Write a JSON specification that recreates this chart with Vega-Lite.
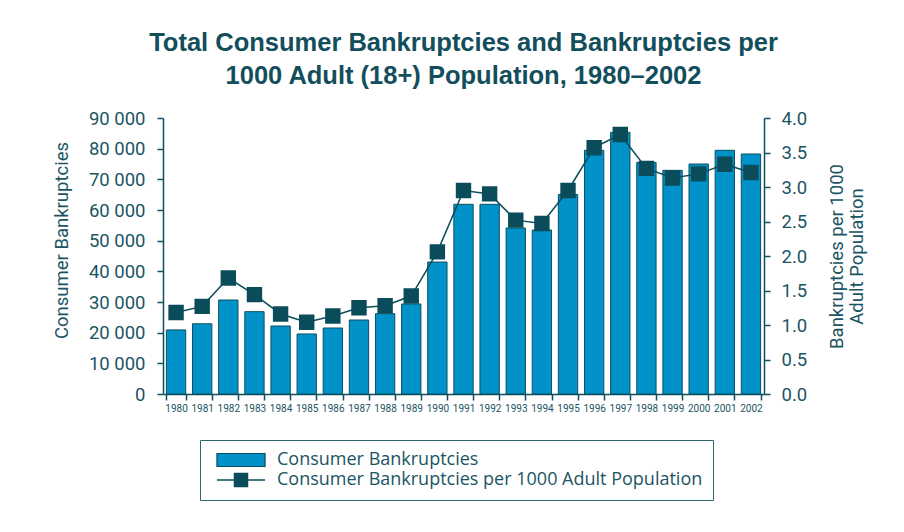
{
  "$schema": "https://vega.github.io/schema/vega-lite/v6.json",
  "autosize": {"type": "none"},
  "width": 601,
  "height": 276,
  "padding": {"left": 163, "top": 118, "right": 140, "bottom": 138},
  "background": "white",
  "title": {
    "text": ["Total Consumer Bankruptcies and Bankruptcies per", "1000 Adult (18+) Population, 1980–2002"],
    "font": "Liberation Sans",
    "fontSize": 25.5,
    "fontWeight": "bold",
    "color": "#124E5B",
    "anchor": "middle",
    "lineHeight": 33,
    "offset": 20
  },
  "data": {
    "values": [
      {"year": "1980", "bankruptcies": 20900, "rate": 1.18},
      {"year": "1981", "bankruptcies": 22900, "rate": 1.27},
      {"year": "1982", "bankruptcies": 30650, "rate": 1.68},
      {"year": "1983", "bankruptcies": 26850, "rate": 1.44},
      {"year": "1984", "bankruptcies": 22170, "rate": 1.16},
      {"year": "1985", "bankruptcies": 19570, "rate": 1.04},
      {"year": "1986", "bankruptcies": 21520, "rate": 1.13},
      {"year": "1987", "bankruptcies": 24130, "rate": 1.25},
      {"year": "1988", "bankruptcies": 26200, "rate": 1.28},
      {"year": "1989", "bankruptcies": 29350, "rate": 1.42},
      {"year": "1990", "bankruptcies": 43040, "rate": 2.06},
      {"year": "1991", "bankruptcies": 61850, "rate": 2.95},
      {"year": "1992", "bankruptcies": 61850, "rate": 2.90},
      {"year": "1993", "bankruptcies": 54130, "rate": 2.52},
      {"year": "1994", "bankruptcies": 53480, "rate": 2.47},
      {"year": "1995", "bankruptcies": 65100, "rate": 2.95},
      {"year": "1996", "bankruptcies": 79460, "rate": 3.57},
      {"year": "1997", "bankruptcies": 85330, "rate": 3.76},
      {"year": "1998", "bankruptcies": 75540, "rate": 3.27},
      {"year": "1999", "bankruptcies": 72930, "rate": 3.13},
      {"year": "2000", "bankruptcies": 75000, "rate": 3.19},
      {"year": "2001", "bankruptcies": 79460, "rate": 3.33},
      {"year": "2002", "bankruptcies": 78260, "rate": 3.21}
    ]
  },
  "encoding": {
    "x": {
      "field": "year",
      "type": "ordinal",
      "scale": {"paddingInner": 0.26, "paddingOuter": 0.13},
      "axis": {
        "title": null,
        "labelAngle": 0,
        "labelFont": "Roboto",
        "labelFontSize": 10,
        "labelColor": "#1B5563",
        "labelPadding": 3,
        "tickBand": "extent",
        "tickSize": 6,
        "tickColor": "#0D4F5F",
        "tickWidth": 1.5,
        "domainColor": "#0D4F5F",
        "domainWidth": 1.5
      }
    }
  },
  "layer": [
    {
      "mark": {"type": "bar", "stroke": "#0D4F5F", "strokeWidth": 1},
      "encoding": {
        "y": {
          "field": "bankruptcies",
          "type": "quantitative",
          "scale": {"domain": [0, 90000], "nice": false},
          "axis": {
            "title": "Consumer Bankruptcies",
            "titleFont": "Roboto",
            "titleFontSize": 18.5,
            "titleFontWeight": "normal",
            "titleColor": "#1B5563",
            "titlePadding": 17,
            "titleY": 122,
            "values": [0, 10000, 20000, 30000, 40000, 50000, 60000, 70000, 80000, 90000],
            "labelExpr": "replace(format(datum.value, ','), ',', ' ')",
            "labelFont": "Roboto",
            "labelFontSize": 18.5,
            "labelColor": "#1B5563",
            "labelPadding": 12,
            "tickSize": 6,
            "tickColor": "#0D4F5F",
            "tickWidth": 1.5,
            "domainColor": "#0D4F5F",
            "domainWidth": 1.5,
            "grid": false
          }
        },
        "fill": {
          "datum": "Consumer Bankruptcies",
          "scale": {"range": ["#0092C8"]},
          "legend": {
            "orient": "none",
            "legendX": 37,
            "legendY": 323,
            "title": null,
            "padding": 10,
            "symbolType": "M-3.7,-1H3.7V1H-3.7Z",
            "symbolSize": 169,
            "symbolOffset": 22,
            "symbolStrokeColor": "#0B4C5B",
            "symbolStrokeWidth": 1.2,
            "labelOffset": 27,
            "labelFont": "Open Sans",
            "labelFontSize": 18,
            "labelColor": "#1B5563",
            "labelLimit": 600
          }
        }
      }
    },
    {
      "mark": {"type": "line", "strokeWidth": 1.5, "point": {"shape": "square", "size": 180, "filled": true, "fill": "#0B4C5B", "color": "#0B4C5B", "opacity": 1}},
      "encoding": {
        "y": {
          "field": "rate",
          "type": "quantitative",
          "scale": {"domain": [0, 4], "nice": false},
          "axis": {
            "orient": "right",
            "title": ["Bankruptcies per 1000", "Adult Population"],
            "titleAngle": -90,
            "titleFont": "Roboto",
            "titleFontSize": 18.5,
            "titleFontWeight": "normal",
            "titleColor": "#1B5563",
            "titlePadding": 20,
            "titleLineHeight": 20,
            "values": [0, 0.5, 1, 1.5, 2, 2.5, 3, 3.5, 4],
            "format": ".1f",
            "labelFont": "Roboto",
            "labelFontSize": 18.5,
            "labelColor": "#1B5563",
            "labelPadding": 11,
            "tickSize": 6,
            "tickColor": "#0D4F5F",
            "tickWidth": 1.5,
            "domainColor": "#0D4F5F",
            "domainWidth": 1.5,
            "grid": false
          }
        },
        "stroke": {
          "datum": "Consumer Bankruptcies per 1000 Adult Population",
          "scale": {"range": ["#0B4C5B"]},
          "legend": {
            "orient": "none",
            "legendX": 37,
            "legendY": 322,
            "title": " ",
            "titleFontSize": 15,
            "titlePadding": 6,
            "padding": 10,
            "strokeColor": "#2E6670",
            "symbolType": "M-3.7,0H3.7M-1,-1H1V1H-1ZM-1,-0.75H1M-1,-0.5H1M-1,-0.25H1M-1,0.25H1M-1,0.5H1M-1,0.75H1",
            "symbolSize": 169,
            "symbolOffset": 22,
            "symbolFillColor": "#0B4C5B",
            "symbolStrokeWidth": 1.5,
            "labelOffset": 27,
            "labelFont": "Open Sans",
            "labelFontSize": 18,
            "labelColor": "#1B5563",
            "labelLimit": 600
          }
        }
      }
    }
  ],
  "resolve": {"scale": {"y": "independent"}},
  "config": {
    "view": {"stroke": null}
  }
}
